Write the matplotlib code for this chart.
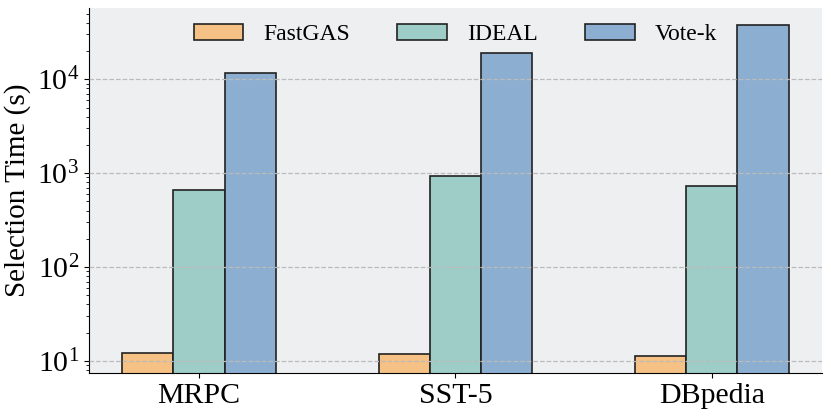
import numpy as np
import matplotlib
matplotlib.use("Agg")
import matplotlib.pyplot as plt

plt.rcParams['font.family'] = ['Liberation Serif', 'DejaVu Serif']
plt.rcParams['mathtext.fontset'] = 'stix'

# Selection time (s) per dataset
datasets = ["MRPC", "SST-5", "DBpedia"]
methods = ["FastGAS", "IDEAL", "Vote-k"]
fastgas = [12.2, 12.0, 11.2]
ideal = [660, 930, 728]
vote_k = [11700, 19100, 38000]
colors = ["#f5c185", "#9ecdc8", "#8cafd1"]

fig = plt.figure(figsize=(8.31, 4.17), dpi=100)
ax = fig.add_axes([0.107, 0.1055, 0.882, 0.8755])
ax.set_facecolor("#eeeff1")

x = np.arange(len(datasets))
width = 0.2
for i, (vals, name) in enumerate(zip([fastgas, ideal, vote_k], methods)):
    ax.bar(x + (i - 1) * width, vals, width, label=name, color=colors[i],
           edgecolor="#222222", linewidth=1.2)

ax.set_yscale("log")
ax.set_ylim(7.45, 5.75e4)
ax.set_xticks(x)
ax.set_xticklabels(datasets, fontsize=21.5)
ax.tick_params(axis="y", labelsize=21.5)
ax.set_ylabel("Selection Time (s)", fontsize=21)
ax.yaxis.grid(True, which="major", linestyle="--", color="#bbbbbb", linewidth=0.9)
ax.set_axisbelow(False)
ax.spines["top"].set_visible(False)
ax.spines["right"].set_visible(False)

ax.legend(loc="upper center", ncol=3, frameon=False, fontsize=17,
          handlelength=2.1, handleheight=0.7, handletextpad=0.85,
          columnspacing=2.0, bbox_to_anchor=(0.5, 1.015))

fig.savefig("out.png", dpi=100)
